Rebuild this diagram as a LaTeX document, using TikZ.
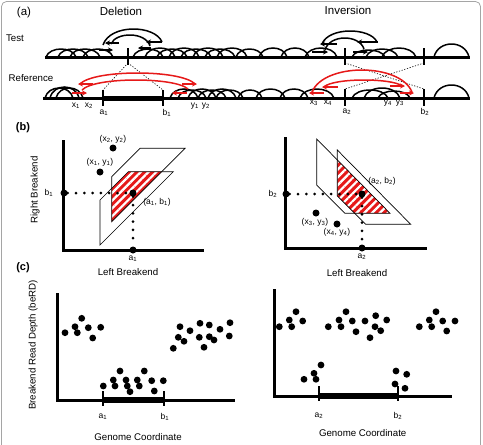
\documentclass[tikz,border=0pt]{standalone}
\usepackage{fontspec}
\setmainfont{Liberation Sans}
\usetikzlibrary{arrows.meta,patterns.meta}
\definecolor{redA}{RGB}{230,25,25}
\definecolor{frameC}{RGB}{165,165,165}
\newcommand{\parc}[6]{\draw[#1] (#2,#3) .. controls ({#2+0.12*(#4-#2)},{#3+1.333*(#6-#3)}) and ({#4-0.12*(#4-#2)},{#5+1.333*(#6-#5)}) .. (#4,#5);}
\newcommand{\hmp}[4]{\parc{hp}{#1}{#3}{#2}{#3}{#3-#4}}
\begin{document}
\begin{tikzpicture}[x=1pt,y=-1pt,
  hp/.style={line width=1.5pt},
  base/.style={line width=3pt},
  pr/.style={line width=1.5pt},
  prr/.style={pr,draw=redA},
  rdk/.style={line width=1.6pt,-{Stealth[length=5pt,width=5pt]}},
  rdr/.style={rdk,draw=redA,color=redA},
  tk/.style={line width=2.2pt},
  fdot/.style={line width=0.6pt,dash pattern=on 1.2pt off 1.6pt},
  bdot/.style={circle,fill=black,inner sep=0pt,minimum size=7pt},
  dotb/.style={line width=3pt,line cap=round,dash pattern=on 0pt off 8.3pt},
  ax/.style={line width=3pt},
  para/.style={line width=0.7pt},
  stripe/.style={fill=redA,postaction={pattern={Lines[angle=45,distance=5.5pt,line width=2.2pt]},pattern color=white}},
  lab/.style={font=\fontsize{8.5}{10}\selectfont,inner sep=1pt},
  ttl/.style={font=\fontsize{11.5}{13}\selectfont,inner sep=1pt},
  pnl/.style={font=\fontsize{11}{13}\selectfont\bfseries,inner sep=1pt},
  axl/.style={font=\fontsize{9.7}{11}\selectfont,inner sep=1pt}]
\useasboundingbox (0,0) rectangle (483,445);
\draw[frameC,line width=0.8pt,rounded corners=5pt] (1.5,1.5) rectangle (480.5,452);

% ---------------- panel (a) ----------------
\node[ttl] (pa) at (24,13) {(a)};
\node[ttl] (del) at (121,11) {Deletion};
\node[ttl] (inv) at (348,10) {Inversion};
\node[axl] (test) at (15,38) {Test};
\node[axl] (refl) at (31,78) {Reference};

\coordinate (tL) at (45,57); \coordinate (tR) at (470,57);
\coordinate (rL) at (43,98); \coordinate (rR) at (470,98);
\draw[base] (tL) -- (tR);
\draw[base] (rL) -- (rR);
\coordinate (ra1) at (103,98); \coordinate (rb1) at (163,98);
\draw[line width=5pt] (ra1) -- (rb1);

% humps test row
\hmp{46}{76}{57}{8}\hmp{58}{88}{57}{8}\hmp{70}{100}{57}{8}\hmp{83}{113}{57}{8}
\hmp{133}{163}{57}{8}\hmp{145}{175}{57}{9}\hmp{157}{187}{57}{8}\hmp{169}{199}{57}{9}
\hmp{181}{211}{57}{8}\hmp{193}{223}{57}{9}\hmp{205}{235}{57}{8}\hmp{217}{247}{57}{9}
\hmp{236}{263}{57}{8}\hmp{259}{287}{57}{9}\hmp{281}{309}{57}{9}\hmp{305}{337}{57}{9}
\hmp{352}{385}{57}{7}\hmp{366}{398}{57}{8}\hmp{382}{416}{57}{9}
\hmp{434}{469}{57}{13}
% humps reference row
\hmp{45}{73}{98}{10}\hmp{50}{79}{98}{11}\hmp{56}{83}{98}{10}
\hmp{170}{198}{98}{9}\hmp{178}{206}{98}{8}\hmp{188}{216}{98}{9}\hmp{198}{226}{98}{8}\hmp{208}{236}{98}{9}\hmp{216}{243}{98}{8}
\hmp{238}{262}{98}{8}\hmp{256}{285}{98}{9}\hmp{280}{308}{98}{9}\hmp{300}{334}{98}{9}
\hmp{352}{388}{98}{8}\hmp{364}{400}{98}{10}\hmp{378}{410}{98}{7}
\hmp{434}{469}{98}{13}

% ticks
\coordinate (td1) at (128,48); \coordinate (td2) at (128,65);
\draw[tk] (td1) -- (td2);
\coordinate (ti1) at (345,48); \coordinate (ti2) at (345,65);
\coordinate (ti3) at (424,48); \coordinate (ti4) at (424,65);
\draw[tk] (ti1) -- (ti2); \draw[tk] (ti3) -- (ti4);
\coordinate (rd1) at (103,90); \coordinate (rd2) at (103,106);
\coordinate (rd3) at (163,90); \coordinate (rd4) at (163,106);
\draw[tk] (rd1) -- (rd2); \draw[tk] (rd3) -- (rd4);
\coordinate (ri1) at (345,89); \coordinate (ri2) at (345,106);
\coordinate (ri3) at (424,89); \coordinate (ri4) at (424,106);
\draw[tk] (ri1) -- (ri2); \draw[tk] (ri3) -- (ri4);

% dotted correspondences
\coordinate (tdb) at (128,63);
\draw[fdot] (tdb) -- (rd1); \draw[fdot] (tdb) -- (rd3);
\coordinate (tia) at (345,63); \coordinate (tib) at (424,63);
\draw[fdot] (tia) -- (ri3); \draw[fdot] (tib) -- (ri1);

% deletion test pairs
\parc{pr}{103}{45}{162}{42}{29}
\parc{pr}{111}{44}{150}{46}{35}
\draw[rdk] (119,43) -- (105,43);
\draw[rdk] (99,50) -- (113,50);
\draw[rdk] (162,42) -- (146,42);
\draw[rdk] (151,48) -- (138,48);
% deletion reference pairs
\parc{prr}{80}{84}{195}{84}{73}
\parc{prr}{82}{90}{188}{89}{80}
\draw[rdr] (93,84) -- (78,84);
\draw[rdr] (182,84) -- (197,84);
\draw[rdr] (72,93) -- (87,93);
\draw[rdr] (187,93) -- (172,93);
% inversion test pairs
\parc{pr}{322}{44}{377}{42}{31}
\parc{pr}{325}{50}{364}{49}{38}
\draw[rdk] (337,44) -- (320,44);
\draw[rdk] (378,42) -- (357,42);
\draw[rdk] (312,52) -- (328,52);
\draw[rdk] (353,52) -- (368,52);
% inversion reference pairs
\parc{prr}{312}{92}{412}{92}{70}
\parc{prr}{324}{87}{402}{86}{80}
\draw[rdr] (338,87) -- (322,87);
\draw[rdr] (390,86) -- (405,86);
\draw[rdr] (324,93) -- (309,93);
\draw[rdr] (400,93) -- (414,93);

% labels (a)
\node[lab] (lx1) at (76,106) {x\textsubscript{1}};
\node[lab] (lx2) at (89,106) {x\textsubscript{2}};
\node[lab] (la1) at (104,113) {a\textsubscript{1}};
\node[lab] (lb1) at (167,113) {b\textsubscript{1}};
\node[lab] (ly1) at (195,106) {y\textsubscript{1}};
\node[lab] (ly2) at (206,106) {y\textsubscript{2}};
\node[lab] (lx3) at (314,103) {x\textsubscript{3}};
\node[lab] (lx4) at (328,103) {x\textsubscript{4}};
\node[lab] (ly4) at (388,103) {y\textsubscript{4}};
\node[lab] (ly3) at (400,103) {y\textsubscript{3}};
\node[lab] (la2) at (347,112) {a\textsubscript{2}};
\node[lab] (lb2) at (425,112) {b\textsubscript{2}};

% ---------------- panel (b) ----------------
\node[pnl] (pb) at (23,128) {(b)};
% left
\filldraw[stripe,draw=none] (111.7,188.3) -- (128.3,171.7) -- (161.7,171.7) -- (111.7,221.7) -- cycle;
\draw[para] (111.7,176.7) -- (140,148.3) -- (185,148.3) -- (111.7,221.7) -- cycle;
\draw[para] (100,200) -- (128.3,171.7) -- (173.3,171.7) -- (100,245) -- cycle;
\coordinate (axLt) at (63,140); \coordinate (axLo) at (63,250); \coordinate (axLr) at (204,250);
\draw[ax] (axLt) -- (axLo) -- (axLr);
\node[bdot] (b1d) at (64,193) {};
\node[bdot] (ab1) at (133,193) {};
\node[bdot] (a1d) at (133,250) {};
\draw[dotb] (b1d) -- (ab1);
\draw[dotb] (ab1) -- (a1d);
\node[bdot] (xy1) at (100,172) {};
\node[bdot] (xy2) at (113,148) {};
\node[lab] (lbb1) at (49,193) {b\textsubscript{1}};
\node[lab] (lba1) at (133,259) {a\textsubscript{1}};
\node[lab] (lab1) at (157,202) {(a\textsubscript{1}, b\textsubscript{1})};
\node[lab] (lxy1) at (100,162) {(x\textsubscript{1}, y\textsubscript{1})};
\node[lab] (lxy2) at (113,139) {(x\textsubscript{2}, y\textsubscript{2})};
\node[axl] (lbl1) at (128,272) {Left Breakend};
\node[axl,rotate=90] (rbl) at (35,190) {Right Breakend};
% right
\filldraw[stripe,draw=none] (337.3,159.9) -- (337.3,196) -- (354.6,213.3) -- (390,213.3) -- cycle;
\draw[para] (316.7,139) -- (316.7,185) -- (345,213.3) -- (390,213.3) -- cycle;
\draw[para] (337.3,150) -- (337.3,196) -- (365.7,224.3) -- (410.7,224.3) -- cycle;
\coordinate (axRt) at (285.7,137); \coordinate (axRo) at (285.7,248); \coordinate (axRr) at (427,248);
\draw[ax] (axRt) -- (axRo) -- (axRr);
\node[bdot] (b2d) at (286,194) {};
\node[bdot] (ab2) at (362,194) {};
\node[bdot] (a2d) at (362,248) {};
\draw[dotb] (b2d) -- (ab2);
\draw[dotb] (ab2) -- (a2d);
\node[bdot] (xy3) at (316,213) {};
\node[bdot] (xy4) at (337,224) {};
\node[lab] (lbb2) at (273,194) {b\textsubscript{2}};
\node[lab] (lba2) at (362,257) {a\textsubscript{2}};
\node[lab] (lab2) at (382,181) {(a\textsubscript{2}, b\textsubscript{2})};
\node[lab] (lxy3) at (315,222) {(x\textsubscript{3}, y\textsubscript{3})};
\node[lab] (lxy4) at (337,232) {(x\textsubscript{4}, y\textsubscript{4})};
\node[axl] (lbl2) at (357,273) {Left Breakend};

% ---------------- panel (c) ----------------
\node[pnl] (pc) at (23,268) {(c)};
\node[axl,rotate=90] (berd) at (33,345) {Breakend Read Depth (beRD)};
% left
\coordinate (cLt) at (57,293); \coordinate (cLo) at (57,400); \coordinate (cLr) at (235,400);
\draw[ax] (cLt) -- (cLo) -- (cLr);
\coordinate (ca1) at (103,400); \coordinate (cb1) at (164,400);
\draw[line width=6pt] (ca1) -- (cb1);
\draw[tk,line width=2.5pt] (103,391) -- (103,406);
\draw[tk,line width=2.5pt] (164,391) -- (164,406);
\node[lab] (lca1) at (103,417) {a\textsubscript{1}};
\node[lab] (lcb1) at (165,417) {b\textsubscript{1}};
\node[axl] (gc1) at (138,437) {Genome Coordinate};
\foreach \p in {(65,332.7),(75,326.7),(77.3,332.7),(81.7,318.3),(88.3,327.7),(92.7,338),(100.7,327.3),
 (103.3,386),(113.3,380),(115,386),(120,371),(126,380),(127.3,386),(130,391.7),(137.3,380),(139.3,386),(144.3,371),(151.7,380.7),(154.3,391),(163.3,380.7),
 (173.3,348.3),(178.3,337.3),(180,326.7),(184,341.3),(190,330.7),(199.3,337.3),(200,323.3),(204,347.3),(209.3,325),(209.3,336.7),(214,340),(220,329.3),(229.3,336),(230,322.7)}
 \fill \p circle (3.4pt);
% right
\coordinate (cRt) at (274.3,289); \coordinate (cRo) at (274.3,396); \coordinate (cRr) at (451.7,396);
\draw[ax] (cRt) -- (cRo) -- (cRr);
\coordinate (ca2) at (319,396); \coordinate (cb2) at (398,396);
\draw[line width=6pt] (ca2) -- (cb2);
\draw[tk,line width=2.5pt] (319,386) -- (319,401);
\draw[tk,line width=2.5pt] (398,386) -- (398,401);
\node[lab] (lca2) at (319,416) {a\textsubscript{2}};
\node[lab] (lcb2) at (398,416) {b\textsubscript{2}};
\node[axl] (gc2) at (362.7,433) {Genome Coordinate};
\foreach \p in {(279.3,326.7),(289.3,320),(291.7,326.7),(296,311.7),(302.7,321),
 (328.3,326.7),(339,320),(341,326.7),(346,311.7),(352.3,321),(356,331.7),(365,321),(370,337.7),(375,326.7),(375.7,315.7),(380.7,330.7),(386.7,320),
 (419.3,326.7),(429.3,320),(431.7,326.7),(436,311.7),(442.7,321),(446.7,331),(455,321),
 (304,379.3),(314,373.3),(316,379.3),(321,365),
 (396,371),(395,384),(406.7,374.3),(405,388.3)}
 \fill \p circle (3.4pt);
\end{tikzpicture}
\end{document}
